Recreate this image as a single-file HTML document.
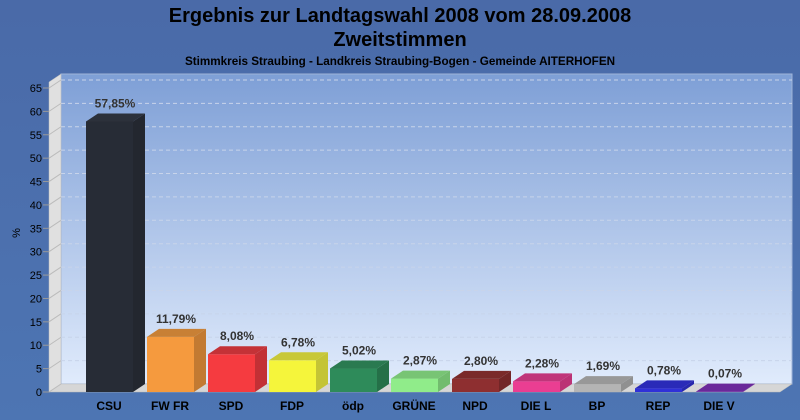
<!DOCTYPE html>
<html><head><meta charset="utf-8"><style>
html,body{margin:0;padding:0;background:#4a72b0;}
svg{display:block;font-family:"Liberation Sans",Arial,sans-serif;}
</style></head><body>
<svg width="800" height="420" viewBox="0 0 800 420" xmlns="http://www.w3.org/2000/svg">
<defs>
<linearGradient id="bg" x1="0" y1="0" x2="0" y2="1">
<stop offset="0" stop-color="#4a6aa8"/><stop offset="1" stop-color="#4d75b3"/></linearGradient>
<linearGradient id="pl" x1="0" y1="0" x2="0" y2="1">
<stop offset="0" stop-color="#7e9fd6"/><stop offset="1" stop-color="#e0ebfc"/></linearGradient>
</defs>
<rect width="800" height="420" fill="url(#bg)"/>
<text x="400" y="22" text-anchor="middle" font-size="20" font-weight="bold" fill="#000">Ergebnis zur Landtagswahl 2008 vom 28.09.2008</text>
<text x="400" y="46" text-anchor="middle" font-size="20" font-weight="bold" fill="#000">Zweitstimmen</text>
<text x="400" y="65" text-anchor="middle" font-size="11.7" font-weight="bold" fill="#000">Stimmkreis Straubing - Landkreis Straubing-Bogen - Gemeinde AITERHOFEN</text>
<rect x="61" y="74" width="731" height="310" fill="url(#pl)" stroke="#9fb4d8" stroke-width="1"/>
<polygon points="49,82 61,74 61,384 49,392" fill="#e0e0e0" stroke="#bbb" stroke-width="0.5"/>
<polygon points="49,392 61,384 792,384 780,392" fill="#d6d6d6" stroke="#bbb" stroke-width="0.5"/>
<g id="grid" stroke="#c8d4ea" stroke-dasharray="4,3" stroke-width="1"></g>
<g id="ticks" font-size="11" fill="#000" text-anchor="end"></g>
<text x="20" y="233" font-size="11" transform="rotate(-90 20 233)" text-anchor="middle">%</text>
<g id="bars"></g>
<script>
var g=document.getElementById('grid'),t=document.getElementById('ticks'),b=document.getElementById('bars');
var ns="http://www.w3.org/2000/svg",k=304/65;
function el(p,tag,a,txt){var e=document.createElementNS(ns,tag);for(var i in a)e.setAttribute(i,a[i]);if(txt!=null)e.textContent=txt;p.appendChild(e);return e;}
for(var v=0;v<=65;v+=5){var yb=384-v*k,yf=392-v*k;
 if(v>0)el(g,'line',{x1:61,x2:792,y1:yb,y2:yb});
 el(g,'line',{x1:43,x2:49,y1:yf,y2:yf,stroke:'#999','stroke-dasharray':'none'});
 el(g,'line',{x1:49,x2:61,y1:yf,y2:yb,stroke:'#bbb','stroke-dasharray':'none'});
 el(t,'text',{x:42,y:yf+4},v);}
var d=[["CSU",57.85,"#272c36","#23272f","#2c313b"],["FW FR",11.79,"#f59a3e","#c27a32","#c88035"],["SPD",8.08,"#f53b40","#c23035","#c43237"],["FDP",6.78,"#f5f53b","#c4c435","#c8c838"],["ödp",5.02,"#2e8b5a","#257048","#2a7a50"],["GRÜNE",2.87,"#90ec8a","#72bc6e","#78c474"],["NPD",2.80,"#8e2f30","#722627","#7a2a2a"],["DIE L",2.28,"#ea3e92","#bb3275","#c0357a"],["BP",1.69,"#b4b4b4","#909090","#989898"],["REP",0.78,"#3030d8","#2727ac","#2a2ab8"],["DIE V",0.07,"#7e30b8","#652694","#6a289a"]];
d.forEach(function(r,i){var x=86+61*i,w=47,top=392-r[1]*k;
 el(b,'rect',{x:x,y:top,width:w,height:392-top,fill:r[2]});
 el(b,'polygon',{points:[x+w,top,x+w+12,top-8,x+w+12,384,x+w,392].join(' '),fill:r[3]});
 el(b,'polygon',{points:[x,top,x+12,top-8,x+w+12,top-8,x+w,top].join(' '),fill:r[4]});
 el(b,'text',{x:x+29,y:top-14,'text-anchor':'middle','font-size':12,'font-weight':'bold',fill:'#333'},r[1].toFixed(2).replace('.',',')+'%');
 el(b,'text',{x:x+23,y:410,'text-anchor':'middle','font-size':12,'font-weight':'bold',fill:'#000'},r[0]);
});
</script>
</svg>
</body></html>
